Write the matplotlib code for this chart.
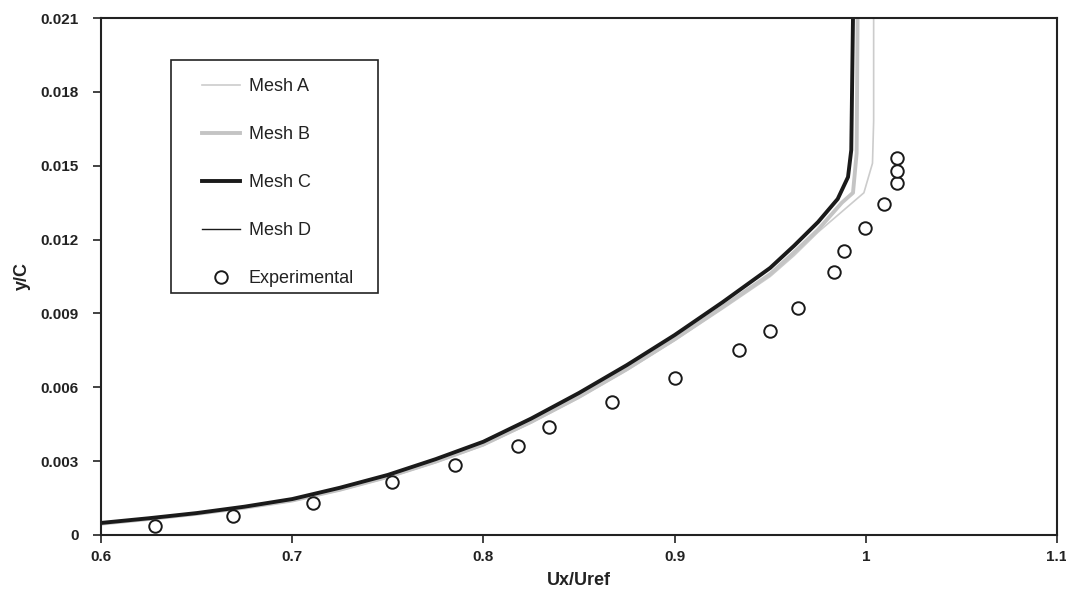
import numpy as np
import matplotlib
matplotlib.use("Agg")
import matplotlib.pyplot as plt
from matplotlib.patches import Rectangle

plt.rcParams['font.family'] = ['Liberation Sans', 'DejaVu Sans']

# experimental points
exp_x = [0.628, 0.669, 0.711, 0.752, 0.785, 0.818, 0.8345, 0.867, 0.900, 0.9335,
         0.950, 0.9644, 0.9832, 0.9886, 0.9996, 1.0097, 1.0162, 1.0162, 1.0162]
exp_y = [0.00035, 0.00077, 0.00129, 0.00217, 0.00284, 0.00362, 0.00439, 0.00541, 0.00638, 0.0075,
         0.00827, 0.00921, 0.01067, 0.01155, 0.01248, 0.01343, 0.01429, 0.0148, 0.01533]

# mesh profiles
meshA_x = [0.6, 0.625, 0.65, 0.675, 0.7, 0.725, 0.75, 0.775, 0.8, 0.825, 0.85, 0.875, 0.9, 0.925,
           0.95, 0.9625, 0.975, 0.999, 1.0035, 1.0041, 1.0041]
meshA_y = [0.00045, 0.00063, 0.00085, 0.00109, 0.00138, 0.00181, 0.00233, 0.00294, 0.00363, 0.00455,
           0.00556, 0.00668, 0.0079, 0.00918, 0.0105, 0.01135, 0.0123, 0.0139, 0.0151, 0.0168, 0.021]

meshB_x = [0.6, 0.625, 0.65, 0.675, 0.7, 0.725, 0.75, 0.775, 0.8, 0.825, 0.85, 0.875, 0.9, 0.925,
           0.95, 0.9625, 0.975, 0.9875, 0.9933, 0.9952, 0.9957]
meshB_y = [0.00046, 0.00065, 0.00086, 0.00111, 0.0014, 0.00184, 0.00236, 0.00298, 0.00368, 0.0046,
           0.00562, 0.00674, 0.00795, 0.00926, 0.0106, 0.01148, 0.0124, 0.0135, 0.0139, 0.0155, 0.021]

meshC_x = [0.6, 0.625, 0.65, 0.675, 0.7, 0.725, 0.75, 0.775, 0.8, 0.825, 0.85, 0.875, 0.9, 0.925,
           0.95, 0.9625, 0.975, 0.9853, 0.9907, 0.9924, 0.9933]
meshC_y = [0.00049, 0.00068, 0.00089, 0.00115, 0.00146, 0.00192, 0.00244, 0.00308, 0.00379, 0.00473,
           0.00577, 0.0069, 0.00812, 0.00945, 0.01085, 0.01175, 0.01271, 0.01365, 0.01454, 0.01564, 0.021]

meshD_x = [0.6, 0.625, 0.65, 0.675, 0.7, 0.725, 0.75, 0.775, 0.8, 0.825, 0.85, 0.875, 0.9, 0.925,
           0.95, 0.9625, 0.975, 0.9855, 0.9909, 0.9926, 0.9935]
meshD_y = [0.00049, 0.00068, 0.00089, 0.00115, 0.00146, 0.00191, 0.00244, 0.00307, 0.00379, 0.00472,
           0.00576, 0.00689, 0.00811, 0.00944, 0.01084, 0.01174, 0.0127, 0.01364, 0.01453, 0.01564, 0.021]

xticks = [0.6, 0.7, 0.8, 0.9, 1.0, 1.1]
xtick_labels = ['0.6', '0.7', '0.8', '0.9', '1', '1.1']
yticks = [0, 0.003, 0.006, 0.009, 0.012, 0.015, 0.018, 0.021]
ytick_labels = ['0', '0.003', '0.006', '0.009', '0.012', '0.015', '0.018', '0.021']

W, H = 1066, 593
fig = plt.figure(figsize=(W/100, H/100), dpi=100)
ax = fig.add_axes([101/W, 1-535/H, (1057-101)/W, (535-18)/H])

ax.plot(meshA_x, meshA_y, color='#cccccc', lw=1.2, label='Mesh A')
ax.plot(meshB_x, meshB_y, color='#c4c4c4', lw=2.8, label='Mesh B')
ax.plot(meshC_x, meshC_y, color='#1a1a1a', lw=2.8, label='Mesh C')
ax.plot(meshD_x, meshD_y, color='#1a1a1a', lw=1.0, label='Mesh D')
ax.plot(exp_x, exp_y, 'o', mfc='white', mec='#1a1a1a', mew=1.4, ms=9, ls='none', label='Experimental')

ax.set_xlim(0.6, 1.1)
ax.set_ylim(0, 0.021)
ax.set_xticks(xticks)
ax.set_xticklabels(xtick_labels)
ax.set_yticks(yticks)
ax.set_yticklabels(ytick_labels)
for lab in ax.get_xticklabels() + ax.get_yticklabels():
    lab.set_fontweight('bold')
    lab.set_fontsize(11)
    lab.set_color('#222222')
ax.tick_params(direction='out', length=6, width=1.2, color='#222222')
ax.tick_params(axis='y', pad=10)
ax.tick_params(axis='x', pad=5)
for s in ax.spines.values():
    s.set_linewidth(1.5)
    s.set_color('#222222')

ax.set_xlabel('Ux/Uref', fontsize=13, fontweight='bold', color='#222222')
ax.set_ylabel('y/C', fontsize=13, fontweight='bold', color='#222222')
ax.xaxis.set_label_coords(0.5, -0.072)
ax.yaxis.set_label_coords(-0.073, 0.5)

# legend box drawn by hand, entries placed inside it
box = Rectangle((171/W, 1-293/H), (378-171)/W, (293-60)/H, transform=fig.transFigure,
                facecolor='white', edgecolor='#222222', lw=1.2, zorder=3, clip_on=False)
ax.add_patch(box)
leg = ax.legend(loc='upper left', bbox_to_anchor=(202/W, 1-78/H), bbox_transform=fig.transFigure,
                borderaxespad=0, frameon=False, fontsize=13, labelspacing=1.72,
                handlelength=2.1, handletextpad=0.5, borderpad=0)
for t in leg.get_texts():
    t.set_color('#222222')
leg.set_zorder(5)

fig.savefig('out.png', dpi=100)
